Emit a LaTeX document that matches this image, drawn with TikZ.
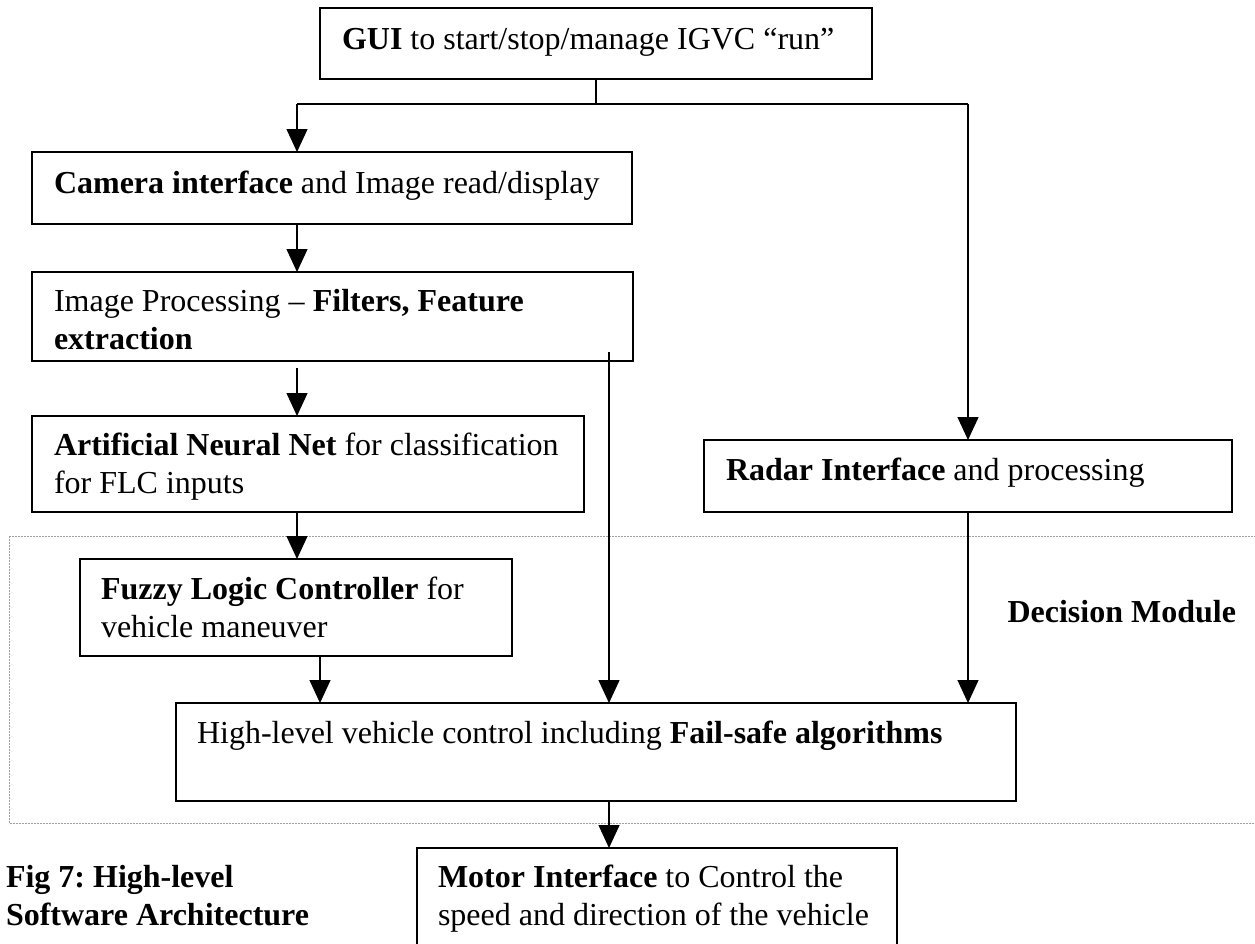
\documentclass[tikz,border=0pt]{standalone}
\usepackage{fontspec}
\setmainfont{Liberation Serif}
\usetikzlibrary{arrows.meta}
\frenchspacing

\tikzset{
  x=1pt, y=-1pt,
  box/.style={draw, line width=2pt, anchor=north west, inner sep=0pt, outer sep=0pt},
  txt/.style={anchor=base west, inner sep=0pt, outer sep=0pt, align=left,
              font=\fontsize{32}{38}\selectfont},
  wire/.style={line width=1.3pt},
  arr/.style={wire, -{Triangle[length=23pt, width=21pt]}},
  zone/.style={draw=gray!75, line width=1pt, dash pattern=on 2pt off 1pt},
}

\begin{document}
\begin{tikzpicture}
\useasboundingbox (0,0) rectangle (1255,943);
\clip (0,0) rectangle (1255,943);

% decision module area
\node[zone, anchor=north west, inner sep=0pt, minimum width=1270pt, minimum height=287pt] (dm) at (9,536) {};
\node[txt, anchor=base east, font=\fontsize{32}{38}\selectfont\bfseries] (dmT) at (1236,622) {Decision Module};

% processing blocks (multi-line texts are placed by their last baseline)
\node[box, minimum width=552pt, minimum height=71pt] (gui) at (320,8) {};
\node[txt] (guiT) at (342,49) {\textbf{GUI} to start/stop/manage IGVC “run”};

\node[box, minimum width=600pt, minimum height=72pt] (cam) at (32,152) {};
\node[txt] (camT) at (54,193) {\textbf{Camera interface} and Image read/display};

\node[box, minimum width=601pt, minimum height=89pt] (imgp) at (32,272) {};
\node[txt] (imgpT) at (54,349) {Image Processing – \textbf{Filters, Feature}\\\textbf{extraction}};

\node[box, minimum width=552pt, minimum height=96pt] (ann) at (32,416) {};
\node[txt] (annT) at (54,493) {\textbf{Artificial Neural Net} for classification\\for FLC inputs};

\node[box, minimum width=528pt, minimum height=72pt] (radar) at (704,440) {};
\node[txt] (radarT) at (726,480) {\textbf{Radar Interface} and processing};

\node[box, minimum width=432pt, minimum height=97pt] (flc) at (80,559) {};
\node[txt] (flcT) at (101,637) {\textbf{Fuzzy Logic Controller} for\\vehicle maneuver};

\node[box, minimum width=840pt, minimum height=98pt] (hl) at (176,703) {};
\node[txt] (hlT) at (197,743) {High-level vehicle control including \textbf{Fail-safe algorithms}};

\node[box, minimum width=480pt, minimum height=120pt] (motor) at (417,848) {};
\node[txt] (motorT) at (438,925) {\textbf{Motor Interface} to Control the\\speed and direction of the vehicle};

% caption
\node[txt, font=\fontsize{32}{38}\selectfont\bfseries] (cap) at (6,925) {Fig 7: High-level\\Software Architecture};

% connectors
\coordinate (busL) at (297,104);
\coordinate (busR) at (968,104);
\coordinate (feat) at (609,352);
\coordinate (fz) at (320,0);
\coordinate (an) at (297,368);

\draw[wire] (gui.south) -- (gui.south |- busL);
\draw[wire] (busL) -- (busR);
\draw[arr] (busL) -- (busL |- cam.north);
\draw[arr] (busR) -- (busR |- radar.north);
\draw[arr] (cam.south -| busL) -- (imgp.north -| busL);
\draw[arr] (an) -- (an |- ann.north);
\draw[arr] (ann.south -| busL) -- (flc.north -| busL);
\draw[arr] (flc.south -| fz) -- (hl.north -| fz);
\draw[arr] (feat) -- (feat |- hl.north);
\draw[arr] (radar.south -| busR) -- (hl.north -| busR);
\draw[arr] (hl.south -| feat) -- (motor.north -| feat);
\end{tikzpicture}
\end{document}
